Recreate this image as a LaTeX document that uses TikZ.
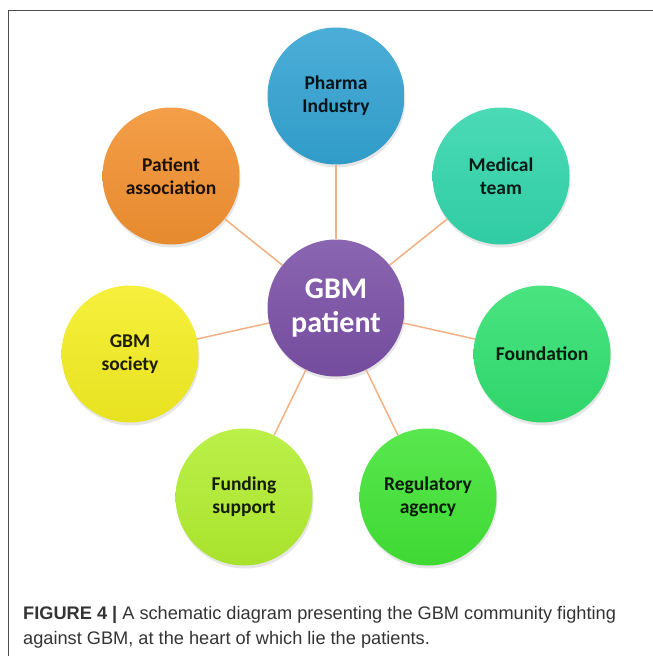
\documentclass[tikz,border=0pt]{standalone}
\usepackage{fontspec}
\setmainfont{Carlito}
\newfontfamily\capfont{Liberation Sans}
\usetikzlibrary{shadows}

\definecolor{pharmablue}{HTML}{33A3D2}
\definecolor{patientorange}{HTML}{F29130}
\definecolor{medicalteal}{HTML}{32D6AC}
\definecolor{societyyellow}{HTML}{F4EE22}
\definecolor{foundationgreen}{HTML}{31E070}
\definecolor{fundinglime}{HTML}{B2EE30}
\definecolor{regulatorygreen}{HTML}{42E436}
\definecolor{gbmpurple}{HTML}{7A50A6}
\definecolor{linkorange}{HTML}{F4B183}
\definecolor{captiongray}{HTML}{333333}

\begin{document}
\begin{tikzpicture}[x=1pt,y=1pt]
 	\tikzset{bubble/.style={circle, minimum size=137pt, inner sep=0pt, align=center,
 	    top color=#1!88!white, bottom color=#1!95!black, draw=none,
 	    text=#1!12!black, font=\bfseries\fontsize{19.5}{23}\selectfont,
 	    drop shadow={opacity=0.2, shadow xshift=1pt, shadow yshift=-3pt}},
 	  link/.style={linkorange, line width=1.5pt}}
 	\useasboundingbox (0,0) rectangle (653,-656);
 	% frame
 	\draw [black!70, line width=1pt] (8,-656) -- (8,-10) -- (653,-10);
 	% centre
 	\node [bubble=gbmpurple, text=white, font=\bfseries\fontsize{30}{34}\selectfont] (gbm) at (336,-308) {GBM\\patient};
 	% satellites
 	\node [bubble=pharmablue] (pharma) at (336,-96) {Pharma\\Industry};
 	\node [bubble=patientorange] (patient) at (171,-176) {Patient\\association};
 	\node [bubble=medicalteal] (medical) at (501,-176) {Medical\\team};
 	\node [bubble=societyyellow] (society) at (130,-354) {GBM\\society};
 	\node [bubble=foundationgreen] (foundation) at (542,-354) {Foundation};
 	\node [bubble=fundinglime] (funding) at (244,-497) {Funding\\support};
 	\node [bubble=regulatorygreen] (regulatory) at (428,-497) {Regulatory\\agency};
 	% links
 	\draw [link] (gbm) -- (pharma);
 	\draw [link] (gbm) -- (patient);
 	\draw [link] (gbm) -- (medical);
 	\draw [link] (gbm) -- (society);
 	\draw [link] (gbm) -- (foundation);
 	\draw [link] (gbm) -- (funding);
 	\draw [link] (gbm) -- (regulatory);
 	% caption
 	\node [anchor=north west, align=left, inner sep=0pt, text=captiongray,
 	  font=\capfont\fontsize{18.2}{25}\selectfont] (caption) at (23,-606)
 	  {\textbf{FIGURE 4 |} A schematic diagram presenting the GBM community fighting\\
 	   against GBM, at the heart of which lie the patients.};
\end{tikzpicture}
\end{document}
